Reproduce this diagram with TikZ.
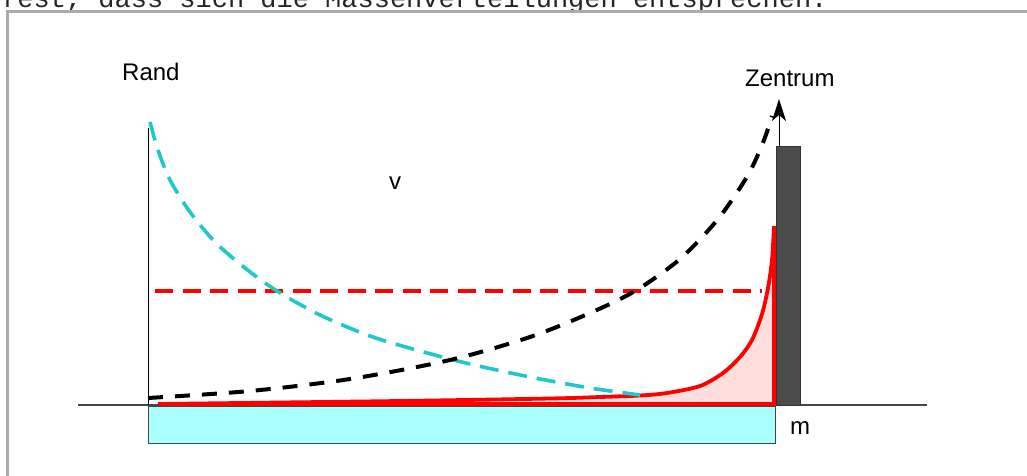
\documentclass[tikz,border=0pt]{standalone}
\usepackage{fontspec}
\setmainfont{Liberation Sans}
\newfontfamily\typewriter{Liberation Mono}
\usetikzlibrary{arrows.meta}
\definecolor{frameGray}{HTML}{AAAAAA}
\definecolor{axisGray}{HTML}{444444}
\definecolor{massCyan}{HTML}{AAFFFF}
\definecolor{curveCyan}{HTML}{20C8C8}
\definecolor{barGray}{HTML}{4B4B4B}
\definecolor{densPink}{HTML}{FFDEDE}

\begin{document}
\begin{tikzpicture}[x=1pt,y=-1pt,
  lbl/.style={font=\fontsize{24}{28}\selectfont,inner sep=0pt,anchor=base west},
  vcurve/.style={line width=3.6pt,dash pattern=on 19pt off 10pt},
  rcurve/.style={red,line width=3.8pt,line join=miter}
]
\useasboundingbox (0,0) rectangle (1027,476);
\begin{scope}
  \clip (0,0) rectangle (1027,476);
  \node[inner sep=0pt,anchor=base west,font=\typewriter\fontsize{27}{30}\selectfont,
    text=black!85] (caption) at (1,8) {fest, dass sich die Massenverteilungen entsprechen.};
  \draw[frameGray,line width=3pt] (7.5,490) -- (7.5,11.5) -- (1040,11.5);
\end{scope}

% mass layer and axes
\draw[axisGray,fill=massCyan,line width=1pt] (148,406) rectangle (775.5,443);
\draw[axisGray,line width=1.4pt] (78,405) -- (927,405);
\draw[black,line width=0.9pt] (148.5,128) -- (148.5,405);

% density near the centre
\fill[densPink] (158,404) -- plot[smooth] coordinates {(158,404) (400,401) (550,398.5) (600,397) (640,395.5)
  (667,393) (700,386) (723,373) (740,357) (752,340) (762,314) (768,288) (772,260) (774,226)} -- (774,404) -- cycle;
\draw[rcurve] plot[smooth] coordinates {(158,404) (400,401) (550,398.5) (600,397) (640,395.5)
  (667,393) (700,386) (723,373) (740,357) (752,340) (762,314) (768,288) (772,260) (774,226)};
\draw[rcurve] (774,226) -- (774,404) -- (158,404);

% central body
\draw[black!80,fill=barGray,line width=0.8pt] (776,146) rectangle (800,405);
\coordinate (bartop) at (779,146);
\coordinate (tip) at (779,99);
\draw[black,line width=0.8pt,-{Stealth[length=22pt,width=14pt,inset=6pt]}] (bartop) -- (tip);

% velocity curves
\draw[red,line width=3.6pt,dash pattern=on 18pt off 9.5pt] (155,291) -- (762,291);
\draw[vcurve,curveCyan] plot[smooth] coordinates {(150,122) (158,150) (170,180) (190,212) (215,242)
  (245,268) (277,291) (320,315) (370,336) (420,351) (470,364) (530,377) (590,388) (640,395)};
\draw[black,line width=4pt,dash pattern=on 15pt off 12pt] plot[smooth] coordinates {(148,398) (250,391)
  (350,379) (450,360) (530,337) (590,313) (635,291) (680,259) (718,219) (748,175) (764,140) (772,116)};

% labels
\node[lbl] (rand) at (122,81) {Rand};
\node[lbl] (zentrum) at (745,87) {Zentrum};
\node[lbl] (v) at (389,189) {v};
\node[lbl] (m) at (790,434) {m};
\end{tikzpicture}
\end{document}
